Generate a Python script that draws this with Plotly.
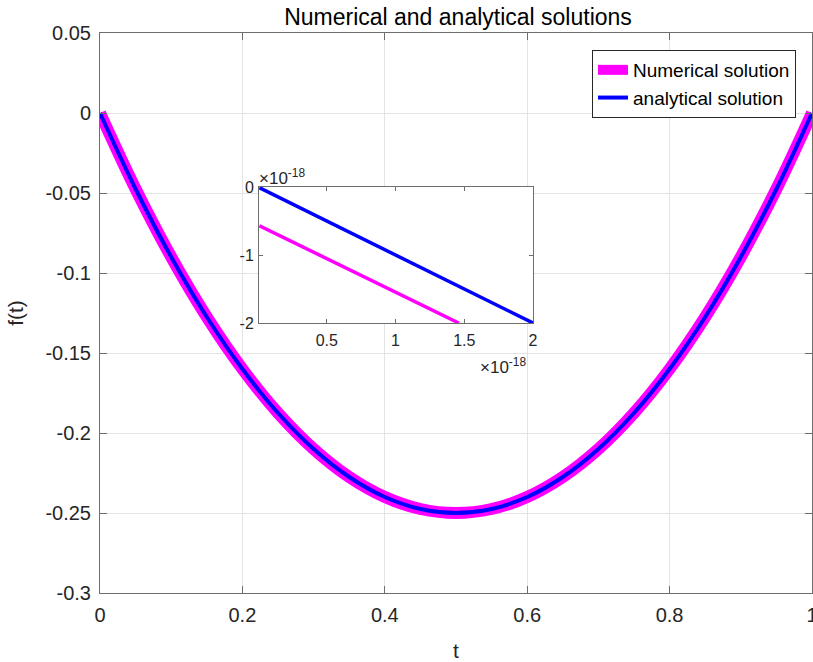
import plotly.graph_objects as go

# Main data
t_vals = [0, 0.05, 0.1, 0.15, 0.2, 0.25, 0.3, 0.35, 0.4, 0.45, 0.5,
          0.55, 0.6, 0.65, 0.7, 0.75, 0.8, 0.85, 0.9, 0.95, 1.0]
numerical = [0, -0.0475, -0.09, -0.1275, -0.16, -0.1875, -0.21, -0.2275, -0.24, -0.2475, -0.25,
             -0.2475, -0.24, -0.2275, -0.21, -0.1875, -0.16, -0.1275, -0.09, -0.0475, 0]
analytical = [0, -0.0475, -0.09, -0.1275, -0.16, -0.1875, -0.21, -0.2275, -0.24, -0.2475, -0.25,
              -0.2475, -0.24, -0.2275, -0.21, -0.1875, -0.16, -0.1275, -0.09, -0.0475, 0]

# Inset data (units of 1e-18)
inset_t_num = [0.01, 1.46]
inset_numerical = [-0.57, -2.0]
inset_t_ana = [0.01, 2.0]
inset_analytical = [-0.01, -2.0]

y_ticks = [0.05, 0, -0.05, -0.1, -0.15, -0.2, -0.25, -0.3]
y_ticklabels = ["0.05", "0", "-0.05", "-0.1", "-0.15", "-0.2", "-0.25", "-0.3"]
x_ticks = [0, 0.2, 0.4, 0.6, 0.8, 1]
x_ticklabels = ["0", "0.2", "0.4", "0.6", "0.8", "1"]
inset_xticks = [0.5, 1, 1.5, 2]
inset_xlabels = ["0.5", "1", "1.5", "2"]
inset_yticks = [0, -1, -2]
inset_ylabels = ["0", "-1", "-2"]

MAG = "#FF00FF"
BLU = "#0000FF"
AX = "#6e6e6e"
TXT = "#262626"
FONT = "Liberation Sans, Arial, sans-serif"

# plot-area pixel geometry helpers (figure is 813x662, plot area x 100..812, y 33..593)
def px_x(p):
    return (p - 100) / 712

def px_y(p):
    return (593 - p) / 560

fig = go.Figure()
fig.add_trace(go.Scatter(x=t_vals, y=numerical, mode="lines", name="Numerical solution",
                         line=dict(color=MAG, width=12, shape="spline"), xaxis="x", yaxis="y"))
fig.add_trace(go.Scatter(x=t_vals, y=analytical, mode="lines", name="analytical solution",
                         line=dict(color=BLU, width=4, shape="spline"), xaxis="x", yaxis="y"))
fig.add_trace(go.Scatter(x=inset_t_num, y=inset_numerical, mode="lines", showlegend=False,
                         line=dict(color=MAG, width=3.5), xaxis="x2", yaxis="y2"))
fig.add_trace(go.Scatter(x=inset_t_ana, y=inset_analytical, mode="lines", showlegend=False,
                         line=dict(color=BLU, width=3.5), xaxis="x2", yaxis="y2"))

main_common = dict(showline=True, linecolor=AX, linewidth=1, mirror="ticks", ticks="inside",
                   tickcolor=AX, ticklen=7, zeroline=False, automargin=False,
                   showgrid=True, gridcolor="#e3e3e3", gridwidth=1,
                   ticklabeloverflow="allow",
                   tickfont=dict(size=20, color=TXT))
inset_common = dict(showline=True, linecolor=AX, linewidth=1, mirror="ticks", ticks="inside",
                    tickcolor=AX, ticklen=4, zeroline=False, automargin=False, showgrid=False,
                    tickfont=dict(size=16, color=TXT))

fig.update_layout(
    width=813, height=662,
    margin=dict(l=100, r=1, t=33, b=69),
    paper_bgcolor="white", plot_bgcolor="white",
    font=dict(family=FONT, color=TXT),
    title=dict(text="Numerical and analytical solutions", x=458 / 813, xanchor="center",
               y=1 - 17 / 662, yanchor="middle", font=dict(size=23, color="#000000")),
    xaxis=dict(domain=[0, 1], range=[0, 1], tickvals=x_ticks, ticktext=x_ticklabels,
               ticklabelstandoff=4,
               title=dict(text="t", font=dict(size=21, color=TXT), standoff=18), **main_common),
    yaxis=dict(domain=[0, 1], range=[-0.3, 0.05], tickvals=y_ticks, ticktext=y_ticklabels,
               ticklabelstandoff=4,
               title=dict(text="f(t)", font=dict(size=21, color=TXT), standoff=16), **main_common),
    xaxis2=dict(domain=[px_x(259), px_x(533)], range=[0.007, 2.0], anchor="y2",
                tickvals=inset_xticks, ticktext=inset_xlabels, ticklabelstandoff=3, **inset_common),
    yaxis2=dict(domain=[px_y(323), px_y(187)], range=[-2.0, 0.0], anchor="x2",
                tickvals=inset_yticks, ticktext=inset_ylabels, ticklabelstandoff=1, **inset_common),
    legend=dict(x=px_x(796), y=px_y(50), xanchor="right", yanchor="top",
                bgcolor="white", bordercolor="#262626", borderwidth=1,
                font=dict(size=19, color="#000000"), tracegroupgap=0),
    annotations=[
        dict(text="\u00d710<sup>-18</sup>", x=px_x(257), y=px_y(177), xref="paper", yref="paper",
             xanchor="left", yanchor="middle", showarrow=False, font=dict(size=17, color=TXT)),
        dict(text="\u00d710<sup>-18</sup>", x=px_x(478), y=px_y(366), xref="paper", yref="paper",
             xanchor="left", yanchor="middle", showarrow=False, font=dict(size=17, color=TXT)),
    ],
)

fig.write_html("out.html", config={"displayModeBar": False},
               post_script="document.body.style.margin='0';document.body.style.overflow='hidden';")
